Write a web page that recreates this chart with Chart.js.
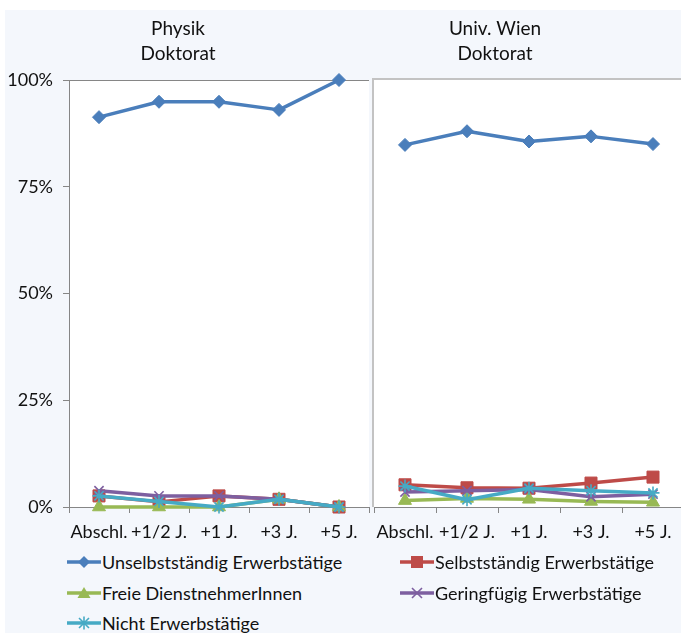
<!DOCTYPE html>
<html>
<head>
<meta charset="utf-8">
<script src="https://cdn.jsdelivr.net/npm/chart.js@4.4.1/dist/chart.umd.min.js"></script>
<style>
  html, body { margin: 0; padding: 0; background: #ffffff; width: 681px; height: 633px; overflow: hidden; }
  #bg { position: absolute; left: 5px; top: 10px; width: 676px; height: 623px; background: #f4f7fc; }
  canvas { position: absolute; top: 0; }
  #c1 { left: 0px; }
  #c2 { left: 371px; }
  #legend { position: absolute; left: 0; top: 546px; width: 681px; height: 87px; font-family: Lato, sans-serif; font-size: 18px; color: #111111; }
  .item { position: absolute; height: 24px; line-height: 24px; white-space: nowrap; }
  .item svg { position: absolute; left: 0; top: 0; }
  .item span { position: absolute; left: 35px; top: 0; }
</style>
</head>
<body>
<div id="bg"></div>
<canvas id="c1" width="372" height="545"></canvas>
<canvas id="c2" width="316" height="545"></canvas>
<div id="legend"></div>
<script>
// ---- data ----
const categories = ['Abschl.', '+1/2 J.', '+1 J.', '+3 J.', '+5 J.'];
const seriesNames = ['Unselbstständig Erwerbstätige', 'Selbstständig Erwerbstätige', 'Freie DienstnehmerInnen', 'Geringfügig Erwerbstätige', 'Nicht Erwerbstätige'];
const panelTitles = [['Physik', 'Doktorat'], ['Univ. Wien', 'Doktorat']];
const yTicks = [0, 25, 50, 75, 100];

// Physik Doktorat (%)
const physikUnselbst = [91.3, 94.9, 94.9, 93.0, 100];
const physikSelbst   = [2.6, 1.2, 2.6, 1.8, 0];
const physikFreie    = [0, 0, 0, 1.8, 0];
const physikGering   = [3.8, 2.6, 2.6, 1.8, 0];
const physikNicht    = [2.6, 1.3, 0, 1.8, 0];

// Univ. Wien Doktorat (%)
const wienUnselbst = [84.8, 88.0, 85.6, 86.8, 85.0];
const wienSelbst   = [5.2, 4.5, 4.4, 5.6, 7.0];
const wienFreie    = [1.5, 2.0, 1.8, 1.3, 1.1];
const wienGering   = [3.5, 3.8, 4.1, 2.4, 3.0];
const wienNicht    = [4.9, 1.7, 4.4, 3.8, 3.3];

// ---- styles ----
const colors = ['#4a7ebb', '#be4b48', '#98b954', '#7d5fa0', '#46aac5'];
const pointStyles = ['rectRot', 'rect', 'triangle', 'crossRot', 'star'];
const pointRadii = [6.5, 8.5, 7.5, 6.5, 6.5];

Chart.defaults.font.family = 'Lato, sans-serif';
Chart.defaults.font.size = 18;
Chart.defaults.color = '#111111';

function makeDatasets(arrs) {
  return arrs.map((d, i) => ({
    label: seriesNames[i], data: d,
    borderColor: colors[i], backgroundColor: colors[i],
    pointBackgroundColor: colors[i], pointBorderColor: colors[i],
    borderWidth: 3.5, pointStyle: pointStyles[i], pointRadius: pointRadii[i],
    pointBorderWidth: (i >= 3) ? 1.6 : 1, borderJoinStyle: 'round',
    tension: 0, clip: false, order: 5 - i
  }));
}

const panelPlugin = {
  id: 'panel',
  beforeDraw(chart, args, opts) {
    const a = chart.chartArea, ctx = chart.ctx;
    ctx.save();
    ctx.fillStyle = '#ffffff';
    ctx.fillRect(a.left, a.top, chart.width - a.left - (opts.border ? 0 : 3), a.bottom - a.top);
    if (opts.border) {
      ctx.strokeStyle = '#c3c3c3'; ctx.lineWidth = 2;
      ctx.beginPath(); ctx.moveTo(a.left - 1, a.bottom); ctx.lineTo(a.left - 1, a.top - 1); ctx.lineTo(chart.width + 5, a.top - 1); ctx.stroke();
    }
    ctx.restore();
  },
  afterDraw(chart, args, opts) {
    const ctx = chart.ctx;
    ctx.save();
    ctx.font = '19px Lato, sans-serif'; ctx.fillStyle = '#111111'; ctx.textAlign = 'center'; ctx.textBaseline = 'middle';
    ctx.fillText(opts.lines[0], opts.cx, 29); ctx.fillText(opts.lines[1], opts.cx, 54);
    ctx.restore();
  }
};

function makeChart(id, arrs, showY, titleLines, cx, padL, padR, border) {
  return new Chart(document.getElementById(id), {
    type: 'line',
    data: { labels: categories, datasets: makeDatasets(arrs) },
    options: {
      responsive: false, animation: false,
      layout: { autoPadding: false, padding: { top: 80, left: padL, right: padR, bottom: 0 } },
      plugins: { legend: { display: false }, tooltip: { enabled: false }, panel: { lines: titleLines, cx: cx, border: border } },
      scales: {
        x: {
          offset: true,
          grid: { drawOnChartArea: false, offset: true, tickLength: 6, color: '#868686', tickColor: '#868686' },
          border: { color: '#868686', width: 1 },
          ticks: { padding: 8, maxRotation: 0, autoSkip: false },
          afterFit(s) { s.height = 38; s.paddingLeft = 0; s.paddingRight = 0; }
        },
        y: {
          display: showY, min: 0, max: 100,
          afterBuildTicks(s) { s.ticks = yTicks.map(v => ({ value: v })); },
          ticks: { padding: 10, callback: v => v + '%' },
          grid: { drawOnChartArea: true, tickLength: 6, color: c => (c.tick && c.tick.value === 100) ? '#868686' : 'rgba(0,0,0,0)', tickColor: '#868686' },
          border: { color: '#868686', width: 1 },
          afterFit(s) { s.width = showY ? 69 : 0; s.paddingTop = 0; s.paddingBottom = 0; }
        }
      }
    },
    plugins: [panelPlugin]
  });
}

makeChart('c1', [physikUnselbst, physikSelbst, physikFreie, physikGering, physikNicht], true, panelTitles[0], 178, 0, 3, false);
makeChart('c2', [wienUnselbst, wienSelbst, wienFreie, wienGering, wienNicht], false, panelTitles[1], 124, 3, 3, true);

// ---- legend ----
const legendPos = [[67, 4], [400, 4], [67, 35], [400, 35], [67, 65]];
const legend = document.getElementById('legend');
function markerSvg(i) {
  const c = colors[i];
  let m = '';
  const cx = 17, cy = 12;
  if (i === 0) m = `<polygon points="${cx},${cy-6} ${cx+6},${cy} ${cx},${cy+6} ${cx-6},${cy}" fill="${c}"/>`;
  if (i === 1) m = `<rect x="${cx-6}" y="${cy-6}" width="12" height="12" fill="${c}"/>`;
  if (i === 2) m = `<polygon points="${cx},${cy-6} ${cx+6.5},${cy+5} ${cx-6.5},${cy+5}" fill="${c}"/>`;
  if (i === 3) m = `<path d="M${cx-5},${cy-5} L${cx+5},${cy+5} M${cx+5},${cy-5} L${cx-5},${cy+5}" stroke="${c}" stroke-width="1.6"/>`;
  if (i === 4) m = `<path d="M${cx-5},${cy-5} L${cx+5},${cy+5} M${cx+5},${cy-5} L${cx-5},${cy+5} M${cx},${cy-6.5} L${cx},${cy+6.5}" stroke="${c}" stroke-width="1.6"/>`;
  return `<svg width="34" height="24"><line x1="0" y1="${cy}" x2="34" y2="${cy}" stroke="${c}" stroke-width="3.5"/>${m}</svg>`;
}
seriesNames.forEach((n, i) => {
  const d = document.createElement('div');
  d.className = 'item';
  d.style.left = legendPos[i][0] + 'px';
  d.style.top = legendPos[i][1] + 'px';
  d.innerHTML = markerSvg(i) + '<span>' + n + '</span>';
  legend.appendChild(d);
});
</script>
</body>
</html>
